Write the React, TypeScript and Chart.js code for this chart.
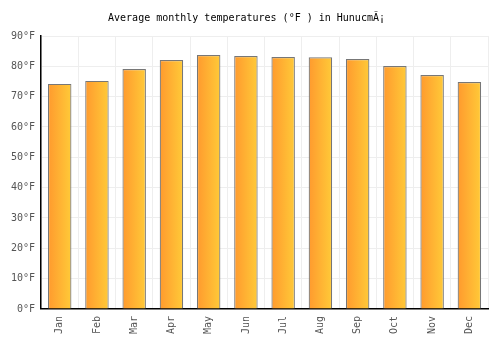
import React, { useEffect, useRef } from "react";
import { Chart, registerables } from "chart.js";

Chart.register(...registerables);

const months = ["Jan", "Feb", "Mar", "Apr", "May", "Jun", "Jul", "Aug", "Sep", "Oct", "Nov", "Dec"];
const temps = [74.2, 75.2, 79.1, 82.1, 83.7, 83.4, 83.1, 83.0, 82.4, 80.1, 77.1, 74.8];
const yTicks = [0, 10, 20, 30, 40, 50, 60, 70, 80, 90];
const titleText = "Average monthly temperatures (°F ) in HunucmÃ¡";

const BAR_PCT = 0.63;

export default function App() {
  const ref = useRef<HTMLCanvasElement>(null);
  useEffect(() => {
    document.body.style.margin = "0";
    const font = "'DejaVu Sans Mono', monospace";
    const chart = new Chart(ref.current!, {
      type: "bar",
      data: {
        labels: months,
        datasets: [
          {
            data: temps,
            backgroundColor: (c: any) => {
              const ch = c.chart;
              const xs = ch.scales && ch.scales.x;
              if (!xs || !xs.width || c.dataIndex === undefined) return "#ffb030";
              const cx = xs.getPixelForValue(c.dataIndex);
              const w = (xs.width / months.length) * BAR_PCT;
              const g = ch.ctx.createLinearGradient(cx - w / 2, 0, cx + w / 2, 0);
              g.addColorStop(0, "#ff9a2e");
              g.addColorStop(1, "#ffca38");
              return g;
            },
            borderColor: "#777777",
            borderWidth: 1.2,
            barPercentage: BAR_PCT,
            categoryPercentage: 1,
          },
        ],
      },
      options: {
        animation: false,
        responsive: false,
        devicePixelRatio: 1,
        layout: { padding: { left: 5, right: 12, top: 0, bottom: 9 } },
        plugins: {
          legend: { display: false },
          tooltip: { enabled: false },
          title: {
            display: true,
            text: titleText,
            color: "#000",
            font: { family: font, size: 10, weight: "normal" },
            padding: { top: 12, bottom: 12 },
          },
        },
        scales: {
          x: {
            grid: { color: "#eeeeee", offset: true, drawTicks: false },
            border: { color: "#000", width: 1.5 },
            ticks: {
              color: "#555",
              font: { family: font, size: 10 },
              minRotation: 90,
              maxRotation: 90,
              padding: 7,
            },
          },
          y: {
            min: 0,
            max: 90,
            afterBuildTicks: (axis: any) => {
              axis.ticks = yTicks.map((v) => ({ value: v }));
            },
            grid: { color: "#eeeeee", drawTicks: false },
            border: { color: "#000", width: 1.5 },
            ticks: {
              color: "#555",
              font: { family: font, size: 10 },
              padding: 6,
              callback: (v: any) => v + "°F",
            },
          },
        },
      },
    });
    return () => chart.destroy();
  }, []);
  return <canvas ref={ref} width={500} height={350} />;
}
